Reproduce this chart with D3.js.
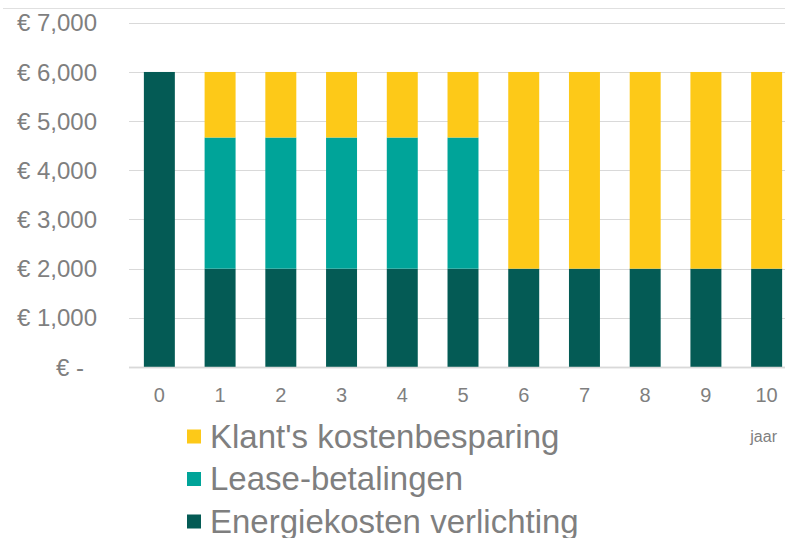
<!DOCTYPE html>
<html>
<head>
<meta charset="utf-8">
<script src="https://cdn.jsdelivr.net/npm/d3@7"></script>
<style>
  body { margin: 0; background: #fff; }
  svg { display: block; font-family: "Liberation Sans", Arial, sans-serif; }
</style>
</head>
<body>
<div id="chart"></div>
<script>
// data
const years = ["0", "1", "2", "3", "4", "5", "6", "7", "8", "9", "10"];
const energiekosten = [6000, 2000, 2000, 2000, 2000, 2000, 2000, 2000, 2000, 2000, 2000];
const leaseBetalingen = [0, 2667, 2667, 2667, 2667, 2667, 0, 0, 0, 0, 0];
const kostenbesparing = [0, 1333, 1333, 1333, 1333, 1333, 4000, 4000, 4000, 4000, 4000];
const yTicks = [0, 1000, 2000, 3000, 4000, 5000, 6000, 7000];
const seriesNames = ["Energiekosten verlichting", "Lease-betalingen", "Klant's kostenbesparing"];
const colors = ["#045b55", "#00a499", "#fdc918"];

const width = 785, height = 538;
const svg = d3.select("#chart").append("svg")
    .attr("width", width)
    .attr("height", height);

// outer chart border top
svg.append("line")
    .attr("x1", 3).attr("x2", width)
    .attr("y1", 8.5).attr("y2", 8.5)
    .attr("stroke", "#e0e0e0")
    .attr("stroke-width", 1);

const x = d3.scaleBand()
    .domain(years)
    .range([129, 797])
    .paddingInner(0.49)
    .paddingOuter(0.245);

const y = d3.scaleLinear()
    .domain([0, 7000])
    .range([367, 22.8]);

// gridlines
svg.append("g")
    .selectAll("line")
    .data(yTicks)
    .join("line")
    .attr("x1", 129).attr("x2", width)
    .attr("y1", d => Math.round(y(d)) + 0.5)
    .attr("y2", d => Math.round(y(d)) + 0.5)
    .attr("stroke", "#d9d9d9")
    .attr("stroke-width", d => d === 0 ? 1.5 : 1.2);

// y labels
const fmt = d => d === 0 ? "€ -" : "€ " + d3.format(",")(d);
svg.append("g")
    .selectAll("text")
    .data(yTicks)
    .join("text")
    .attr("x", d => d === 0 ? 84 : 97)
    .attr("y", d => y(d))
    .attr("dy", "0.36em")
    .attr("text-anchor", "end")
    .attr("fill", "#7f7f7f")
    .style("font-size", "24px")
    .text(fmt);

// stacked bars
const table = years.map((yr, i) => ({
    year: yr,
    "Energiekosten verlichting": energiekosten[i],
    "Lease-betalingen": leaseBetalingen[i],
    "Klant's kostenbesparing": kostenbesparing[i]
}));
const stacked = d3.stack().keys(seriesNames)(table);

svg.append("g")
    .selectAll("g")
    .data(stacked)
    .join("g")
    .attr("fill", (d, i) => colors[i])
    .selectAll("rect")
    .data(d => d)
    .join("rect")
    .attr("x", d => x(d.data.year))
    .attr("width", x.bandwidth())
    .attr("y", d => y(d[1]))
    .attr("height", d => y(d[0]) - y(d[1]));

// axis line over the bars
svg.append("line")
    .attr("x1", 129).attr("x2", width)
    .attr("y1", 367.5).attr("y2", 367.5)
    .attr("stroke", "#d9d9d9")
    .attr("stroke-width", 1.5);

// x labels
svg.append("g")
    .selectAll("text")
    .data(years)
    .join("text")
    .attr("x", d => x(d) + x.bandwidth() / 2)
    .attr("y", 395)
    .attr("dy", "0.36em")
    .attr("text-anchor", "middle")
    .attr("fill", "#7f7f7f")
    .style("font-size", "20px")
    .text(d => d);

svg.append("text")
    .attr("x", 777)
    .attr("y", 436)
    .attr("dy", "0.36em")
    .attr("text-anchor", "end")
    .attr("fill", "#7f7f7f")
    .style("font-size", "16px")
    .text("jaar");

// legend (reverse order)
const legendItems = [2, 1, 0];
const legend = svg.append("g")
    .selectAll("g")
    .data(legendItems)
    .join("g")
    .attr("transform", (d, i) => `translate(187, ${436 + i * 42.5})`);

legend.append("rect")
    .attr("x", 0).attr("y", -6.5)
    .attr("width", 14).attr("height", 14)
    .attr("fill", d => colors[d]);

legend.append("text")
    .attr("x", 23)
    .attr("y", 0)
    .attr("dy", "0.36em")
    .attr("fill", "#7f7f7f")
    .style("font-size", "33px")
    .text(d => seriesNames[d]);
</script>
</body>
</html>
